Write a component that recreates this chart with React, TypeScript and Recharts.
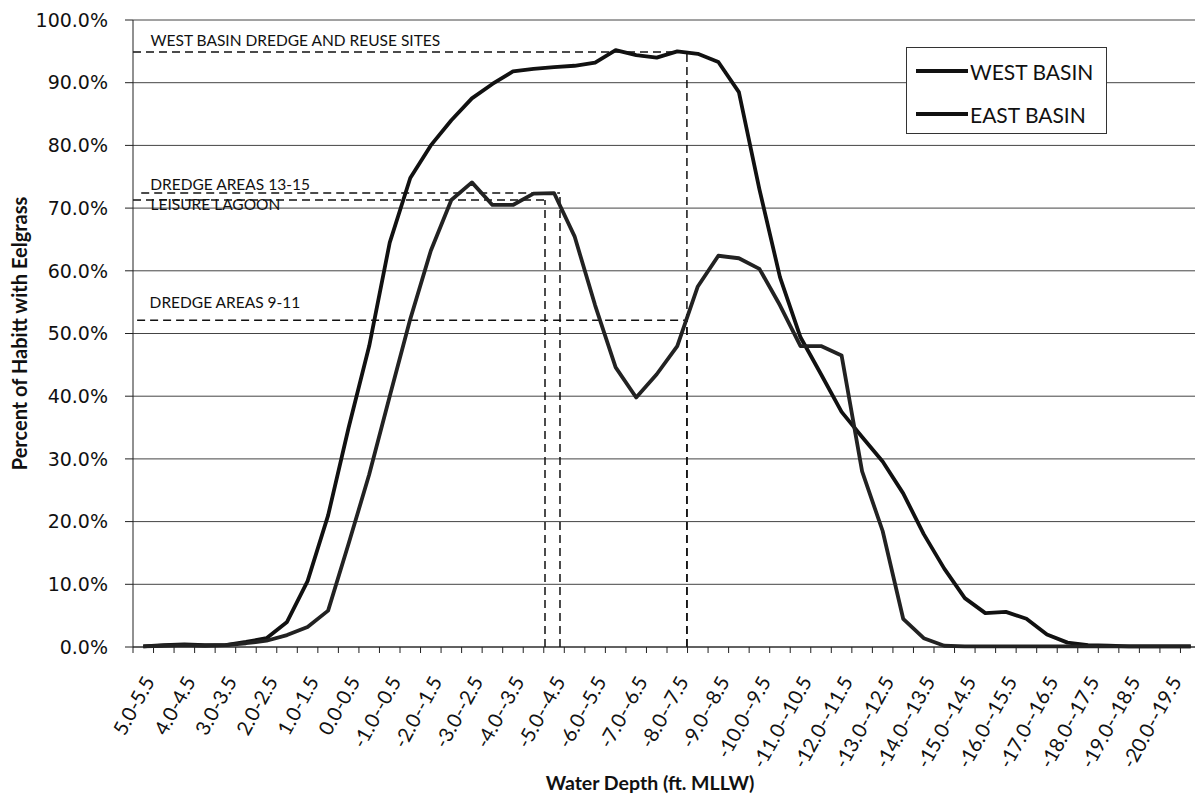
import React from 'react'
import { LineChart, Line, XAxis, YAxis, CartesianGrid, ReferenceLine } from 'recharts'

// depth bins, 0.5 ft each (only every other one is labelled on the axis)
const depthBins = [
  '5.0-5.5', '4.5-5.0', '4.0-4.5', '3.5-4.0', '3.0-3.5', '2.5-3.0', '2.0-2.5', '1.5-2.0',
  '1.0-1.5', '0.5-1.0', '0.0-0.5', '-0.5-0.0', '-1.0--0.5', '-1.5--1.0', '-2.0--1.5', '-2.5--2.0',
  '-3.0--2.5', '-3.5--3.0', '-4.0--3.5', '-4.5--4.0', '-5.0--4.5', '-5.5--5.0', '-6.0--5.5', '-6.5--6.0',
  '-7.0--6.5', '-7.5--7.0', '-8.0--7.5', '-8.5--8.0', '-9.0--8.5', '-9.5--9.0', '-10.0--9.5', '-10.5--10.0',
  '-11.0--10.5', '-11.5--11.0', '-12.0--11.5', '-12.5--12.0', '-13.0--12.5', '-13.5--13.0', '-14.0--13.5', '-14.5--14.0',
  '-15.0--14.5', '-15.5--15.0', '-16.0--15.5', '-16.5--16.0', '-17.0--16.5', '-17.5--17.0', '-18.0--17.5', '-18.5--18.0',
  '-19.0--18.5', '-19.5--19.0', '-20.0--19.5', '-20.5--20.0',
]

// percent of habitat with eelgrass
const westBasin = [
  0.1, 0.3, 0.4, 0.3, 0.3, 0.8, 1.4, 4.0, 10.5, 21.0, 35.0, 48.0, 64.5,
  74.8, 80.0, 84.0, 87.5, 89.8, 91.8, 92.2, 92.5, 92.7, 93.2, 95.2, 94.4,
  94.0, 95.0, 94.6, 93.3, 88.5, 73.0, 59.0, 49.4, 43.5, 37.5, 33.5, 29.6,
  24.5, 18.0, 12.5, 7.8, 5.4, 5.6, 4.5, 2.0, 0.7, 0.3, 0.2, 0.1, 0.1, 0.1, 0.1,
]
const eastBasin = [
  0.1, 0.2, 0.3, 0.2, 0.3, 0.6, 1.0, 1.9, 3.2, 5.8, 16.5, 27.5, 40.0,
  52.3, 63.2, 71.3, 74.1, 70.5, 70.5, 72.3, 72.4, 65.5, 54.5, 44.6, 39.8,
  43.5, 48.0, 57.5, 62.4, 62.0, 60.3, 54.5, 48.0, 48.0, 46.5, 28.0, 18.5,
  4.5, 1.4, 0.2, 0.1, 0.1, 0.1, 0.1, 0.1, 0.1, 0.1, 0.1, 0.1, 0.1, 0.1, 0.1,
]

const seriesNames = ['WEST BASIN', 'EAST BASIN']
const yTicks = [0, 10, 20, 30, 40, 50, 60, 70, 80, 90, 100]
const binEdges = Array.from({ length: depthBins.length + 1 }, (_, i) => i)

// dashed guide lines: level (%), where they start and stop on the bin-edge scale
const guideLabels = ['WEST BASIN DREDGE AND REUSE SITES', 'DREDGE AREAS 13-15', 'LEISURE LAGOON', 'DREDGE AREAS 9-11']
const guideLevels = [94.9, 72.4, 71.3, 52.1]
const guideStarts = [0, 0.4, 0, 0.2]
const guideEnds = [26.97, 20.79, 20.06, 26.97]
const labelDx = [17.5, 9, 17.5, 12.5]
const labelDy = [-6, -3, 10, -12]

const data = depthBins.map((bin, i) => ({ bin, west: westBasin[i], east: eastBasin[i] }))

const ink = '#111'

function BinTick({ x, y, payload }: any) {
  const ax = x + 6
  const ay = y + 15
  return (
    <text
      x={ax}
      y={ay}
      dy="0.35em"
      textAnchor="end"
      transform={`rotate(-61, ${ax}, ${ay})`}
      fontFamily="Lato"
      fontSize={20}
      fill={ink}
    >
      {payload.value}
    </text>
  )
}

function NoLabel() {
  return <g />
}

const guideLabel = (k: number) => (props: any) => {
  const vb = props.viewBox
  if (!vb) return null
  return (
    <text x={vb.x + labelDx[k]} y={vb.y + labelDy[k]} fontFamily="Lato" fontSize={15.5} fill={ink}>
      {guideLabels[k]}
    </text>
  )
}

export default function App() {
  return (
    <div
      style={{
        position: 'absolute',
        left: 0,
        top: 0,
        width: 1195,
        height: 799,
        overflow: 'hidden',
        background: '#fff',
        fontFamily: 'Lato',
      }}
    >
      <LineChart width={1201} height={799} data={data} margin={{ top: 20, right: 0, bottom: 0, left: 0 }}>
        <CartesianGrid xAxisId="edges" vertical={false} stroke="#444" strokeWidth={1} />
        <XAxis
          xAxisId="labels"
          dataKey="bin"
          type="category"
          scale="band"
          interval={1}
          axisLine={false}
          tickLine={false}
          height={144}
          tick={<BinTick />}
          label={{
            value: 'Water Depth (ft. MLLW)',
            position: 'insideBottom',
            offset: 9,
            dx: -17,
            style: { fontFamily: 'Lato', fontWeight: 700, fontSize: 19.5, fill: ink },
          }}
        />
        <XAxis
          xAxisId="edges"
          dataKey="edge"
          type="number"
          domain={[0, depthBins.length]}
          ticks={binEdges}
          interval={0}
          tick={<NoLabel />}
          tickSize={6}
          height={8}
          stroke="#222"
          allowDataOverflow
        />
        <YAxis
          domain={[0, 100]}
          ticks={yTicks}
          width={133}
          tickSize={8}
          tickMargin={17}
          stroke="#222"
          tickFormatter={(v: number) => `${v.toFixed(1)}%`}
          tick={{ fontFamily: 'DejaVu Sans', fontSize: 19, fill: ink }}
          label={{
            value: 'Percent of Habitt with Eelgrass',
            angle: -90,
            position: 'insideLeft',
            offset: 20,
            style: { textAnchor: 'middle', fontFamily: 'Lato', fontWeight: 700, fontSize: 20, fill: ink },
          }}
        />
        {guideLevels.map((lvl, k) => (
          <ReferenceLine
            key={`h${k}`}
            xAxisId="edges"
            segment={[
              { x: guideStarts[k], y: lvl },
              { x: guideEnds[k], y: lvl },
            ]}
            stroke={ink}
            strokeWidth={1.5}
            strokeDasharray="8 5"
            label={guideLabel(k)}
          />
        ))}
        {guideLevels.map((lvl, k) => (
          <ReferenceLine
            key={`v${k}`}
            xAxisId="edges"
            segment={[
              { x: guideEnds[k], y: 0 },
              { x: guideEnds[k], y: lvl },
            ]}
            stroke={ink}
            strokeWidth={1.5}
            strokeDasharray="8 5"
          />
        ))}
        <Line
          xAxisId="labels"
          dataKey="west"
          name={seriesNames[0]}
          stroke={ink}
          strokeWidth={3.8}
          dot={false}
          strokeLinejoin="round"
          isAnimationActive={false}
        />
        <Line
          xAxisId="labels"
          dataKey="east"
          name={seriesNames[1]}
          stroke="#222"
          strokeWidth={3.8}
          dot={false}
          strokeLinejoin="round"
          isAnimationActive={false}
        />
      </LineChart>
      <div
        style={{
          position: 'absolute',
          left: 906,
          top: 47,
          width: 201,
          height: 87,
          border: '1.5px solid #333',
          background: '#fff',
          boxSizing: 'border-box',
          fontFamily: 'Lato',
          fontSize: 21,
          color: ink,
        }}
      >
        {seriesNames.map((name, k) => (
          <div
            key={name}
            style={{ position: 'absolute', left: 9, top: 8 + k * 43, height: 30, display: 'flex', alignItems: 'center' }}
          >
            <span style={{ display: 'inline-block', width: 52, height: 4, background: ink, marginRight: 2 }} />
            <span>{name}</span>
          </div>
        ))}
      </div>
    </div>
  )
}
